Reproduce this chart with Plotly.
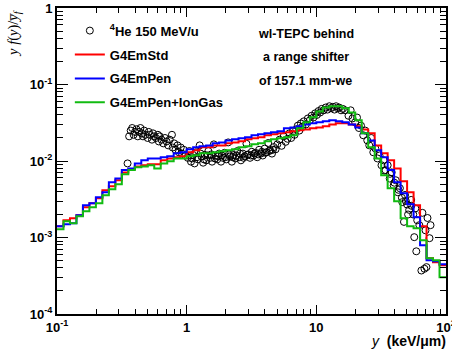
import numpy as np
import plotly.graph_objects as go

# Histogram bin edges: 20 log bins per decade from 0.1 to 100 keV/um
bin_edges = list(10 ** np.linspace(-1, 2, 61))

g4emstd = [0.00140, 0.00168, 0.00179, 0.00195, 0.00249, 0.00281, 0.00326, 0.00414, 0.00467, 0.0056,
           0.0071, 0.0078, 0.0085, 0.0088, 0.0091, 0.0091, 0.0102, 0.0108, 0.0112, 0.0115,
           0.0130, 0.0138, 0.0151, 0.0151, 0.0160, 0.0160, 0.0170, 0.0175, 0.0181, 0.0192,
           0.0198, 0.0204, 0.0217, 0.0223, 0.0230, 0.0237, 0.0244, 0.0252, 0.0259, 0.0267,
           0.0275, 0.0284, 0.0301, 0.0311, 0.0311, 0.0301, 0.0284, 0.0259, 0.0230, 0.0160,
           0.0126, 0.0102, 0.0080, 0.00543, 0.00390, 0.00264, 0.00140, 0.000537, 0.000476, 0.000435]

g4empen = [0.00140, 0.00149, 0.00154, 0.00195, 0.00264, 0.00281, 0.00336, 0.00390, 0.00527, 0.0059,
           0.0076, 0.0080, 0.0093, 0.0102, 0.0108, 0.0108, 0.0112, 0.0115, 0.0126, 0.0130,
           0.0142, 0.0151, 0.0156, 0.0160, 0.0170, 0.0175, 0.0186, 0.0192, 0.0198, 0.0204,
           0.0217, 0.0223, 0.0230, 0.0237, 0.0244, 0.0267, 0.0275, 0.0284, 0.0301, 0.0311,
           0.0320, 0.0330, 0.0340, 0.0330, 0.0320, 0.0301, 0.0275, 0.0230, 0.0186, 0.0138,
           0.0112, 0.0076, 0.00527, 0.00378, 0.00272, 0.00184, 0.000793, 0.000505, 0.000490, 0.000448]

g4empen_iongas = [0.00128, 0.00163, 0.00154, 0.00190, 0.00220, 0.00249, 0.00281, 0.00357, 0.00426, 0.00496,
                  0.0067, 0.0076, 0.0083, 0.0085, 0.0088, 0.0080, 0.0093, 0.0099, 0.0108, 0.0108,
                  0.0115, 0.0119, 0.0126, 0.0126, 0.0130, 0.0134, 0.0138, 0.0142, 0.0151, 0.0156,
                  0.0165, 0.0170, 0.0181, 0.0192, 0.0198, 0.0204, 0.0217, 0.0267, 0.0320, 0.0372,
                  0.0445, 0.0502, 0.0518, 0.0518, 0.0488, 0.0432, 0.0340, 0.0230, 0.0151, 0.0108,
                  0.0065, 0.00439, 0.00298, 0.00179, 0.00140, 0.00132, 0.000922, 0.000537, 0.000505, 0.000303]

# Measured spectrum (4He 150 MeV/u)
exp_x_a = [0.35, 0.36, 0.37, 0.38, 0.39, 0.40, 0.41, 0.42, 0.43, 0.44, 0.45, 0.46, 0.47, 0.48, 0.50,
           0.51, 0.52, 0.54, 0.55, 0.56, 0.58, 0.60, 0.61, 0.62, 0.64, 0.66, 0.68, 0.70, 0.72, 0.74,
           0.77, 0.78, 0.80, 0.82, 0.85, 0.87, 0.90, 0.92, 0.95, 0.98]
exp_y_a = [0.0093, 0.021, 0.025, 0.027, 0.022, 0.024, 0.026, 0.021, 0.024, 0.027, 0.023, 0.021, 0.025, 0.022, 0.020,
           0.024, 0.022, 0.019, 0.023, 0.021, 0.020, 0.022, 0.018, 0.021, 0.019, 0.017, 0.020, 0.018, 0.016, 0.019,
           0.022, 0.015, 0.017, 0.014, 0.016, 0.013, 0.015, 0.0125, 0.014, 0.0118]
exp_x_b = [1.02, 1.05, 1.08, 1.12, 1.15, 1.18, 1.22, 1.26, 1.30, 1.34, 1.38, 1.42, 1.47, 1.52, 1.57,
           1.62, 1.67, 1.72, 1.78, 1.84, 1.90, 1.96, 2.02, 2.09, 2.16, 2.23, 2.30, 2.38, 2.46, 2.54,
           2.62, 2.71, 2.80, 2.89, 2.98, 3.08, 3.18, 3.28, 3.39, 3.50, 3.62, 3.74, 3.86, 3.99, 4.12,
           4.26, 4.40, 4.55, 4.70, 4.85,
           1.10, 1.20, 1.28, 1.36, 1.45, 1.55, 1.65, 1.75, 1.87, 1.99, 2.12, 2.26, 2.42, 2.58, 2.75,
           2.93, 3.13, 3.33, 3.56, 3.80, 4.05, 4.33, 4.62]
exp_y_b = [0.011, 0.0135, 0.0098, 0.012, 0.0093, 0.013, 0.0105, 0.016, 0.0115, 0.0095, 0.012, 0.0102, 0.0135, 0.011, 0.0098,
           0.0165, 0.0118, 0.0105, 0.0125, 0.0098, 0.011, 0.0128, 0.0105, 0.0175, 0.0115, 0.0098, 0.012, 0.0108, 0.0135, 0.0112,
           0.0102, 0.0125, 0.0115, 0.0168, 0.0122, 0.011, 0.0132, 0.0118, 0.0128, 0.0112, 0.014, 0.0125, 0.0118, 0.0145, 0.013,
           0.0172, 0.0138, 0.0125, 0.0152, 0.0142,
           0.0108, 0.0112, 0.0125, 0.0105, 0.0118, 0.0122, 0.0108, 0.0115, 0.0118, 0.0112, 0.0122, 0.0112, 0.0118, 0.0125, 0.0110,
           0.0120, 0.0118, 0.0125, 0.0122, 0.0132, 0.0128, 0.0135, 0.0140]
exp_x_c = [5.0, 5.2, 5.4, 5.6, 5.8, 6.0, 6.2, 6.4, 6.6, 6.8, 7.0, 7.2, 7.4, 7.6, 7.8, 8.0, 8.3, 8.6, 8.9,
           9.2, 9.5, 9.8, 10.1, 10.4, 10.7, 11.0, 11.4, 11.8, 12.2, 12.6, 13.0, 13.4, 13.8, 14.2, 14.6,
           15.0, 15.5, 16.0]
exp_y_c = [0.0165, 0.019, 0.0158, 0.021, 0.0178, 0.0195, 0.023, 0.020, 0.0245, 0.022, 0.026, 0.029, 0.025, 0.031,
           0.028, 0.033, 0.030, 0.036, 0.034, 0.039, 0.037, 0.042, 0.040, 0.045, 0.043, 0.048, 0.046, 0.050,
           0.047, 0.052, 0.049, 0.051, 0.047, 0.052, 0.049, 0.050, 0.046, 0.048]
exp_x_d = [16.7, 17.7, 18.4, 19.0, 19.9, 20.6, 21.3, 22.1, 23.0, 23.8, 24.7, 25.6, 26.5, 27.5, 28.5,
           29.6, 30.7, 31.8, 33.0, 33.5, 34.2, 35.5, 36.8, 37.0, 38.1, 39.5, 40.0, 41.0, 42.5, 43.0,
           44.1, 45.7, 46.0, 47.4, 48.3, 49.0, 50.1, 51.0, 52.0, 53.9, 54.0, 55.9, 56.9, 58.0, 59.0,
           60.0, 62.3, 64.6, 65.8, 68.2, 69.5, 70.7, 72.0, 74.6, 76.0]
exp_y_d = [0.046, 0.039, 0.046, 0.036, 0.032, 0.037, 0.027, 0.029, 0.0217, 0.025, 0.0186, 0.016, 0.020, 0.013, 0.0146,
           0.0108, 0.0118, 0.0088, 0.0102, 0.0075, 0.0076, 0.0088, 0.0059, 0.0068, 0.0071, 0.0048, 0.0052, 0.0056, 0.0039, 0.0042,
           0.0044, 0.0033, 0.0029, 0.0016, 0.0036, 0.0030, 0.0027, 0.0020, 0.0023, 0.0031, 0.0026, 0.0020, 0.00101, 0.0024, 0.00066,
           0.00168, 0.00145, 0.00037, 0.0021, 0.00039, 0.00124, 0.00041, 0.0018, 0.00098, 0.00145]

exp_x = exp_x_a + exp_x_b + exp_x_c + exp_x_d
exp_y = exp_y_a + exp_y_b + exp_y_c + exp_y_d

x_tickvals = [0.1, 1, 10, 100]
x_ticktext = ["10<sup>-1</sup>", "1", "10", "10<sup>2</sup>"]
y_tickvals = [1e-4, 1e-3, 1e-2, 1e-1, 1]
y_ticktext = ["10<sup>-4</sup>", "10<sup>-3</sup>", "10<sup>-2</sup>", "10<sup>-1</sup>", "1"]

FONT = "Liberation Sans, Arial, sans-serif"
SERIF = "Liberation Serif, Times New Roman, serif"


def step_y(vals):
    return list(vals) + [vals[-1]]


fig = go.Figure()
fig.add_trace(go.Scatter(
    x=exp_x, y=exp_y, mode="markers", name="<sup>4</sup>He 150 MeV/u",
    marker=dict(symbol="circle-open", size=7, color="black", line=dict(width=1, color="black")),
    legendgroup="a"))
fig.add_trace(go.Scatter(
    x=bin_edges, y=step_y(g4emstd), mode="lines", line_shape="hv", name="G4EmStd",
    line=dict(color="#ff0000", width=2), legendgroup="b"))
fig.add_trace(go.Scatter(
    x=bin_edges, y=step_y(g4empen), mode="lines", line_shape="hv", name="G4EmPen",
    line=dict(color="#0000ff", width=2), legendgroup="c"))
fig.add_trace(go.Scatter(
    x=bin_edges, y=step_y(g4empen_iongas), mode="lines", line_shape="hv", name="G4EmPen+IonGas",
    line=dict(color="#11bb11", width=2), legendgroup="d"))

x_minor = [m * 10 ** e for e in (-1, 0, 1) for m in range(2, 10)]
y_minor = [m * 10 ** e for e in (-4, -3, -2, -1) for m in range(2, 10)]

axis_common = dict(
    type="log", showgrid=False, zeroline=False, showline=True, linewidth=2, linecolor="black",
    mirror="allticks", ticks="inside", tickcolor="black", tickwidth=1, automargin=False,
    ticklabeloverflow="allow",
    tickfont=dict(family=FONT, size=13, color="black", weight="bold"),
)

fig.update_xaxes(**axis_common, range=[-1, 2], tickmode="array", tickvals=x_tickvals,
                 ticktext=x_ticktext, ticklen=9,
                 minor=dict(tickmode="array", tickvals=x_minor, ticks="inside", ticklen=5,
                            tickcolor="black", tickwidth=1, showgrid=False))
fig.update_yaxes(**axis_common, range=[-4, 0], tickmode="array", tickvals=y_tickvals,
                 ticktext=y_ticktext, ticklen=11,
                 minor=dict(tickmode="array", tickvals=y_minor, ticks="inside", ticklen=6,
                            tickcolor="black", tickwidth=1, showgrid=False))

ann_font = dict(family=FONT, size=12.5, color="black", weight="bold")
fig.update_layout(
    width=452, height=353,
    margin=dict(l=57, r=6, t=8, b=39, autoexpand=False),
    paper_bgcolor="white", plot_bgcolor="white",
    showlegend=True,
    legend=dict(x=0.033, y=0.975, xanchor="left", yanchor="top", bgcolor="rgba(0,0,0,0)",
                font=dict(family=FONT, size=13, color="black", weight="bold"),
                tracegroupgap=4, itemwidth=30),
    annotations=[
        dict(text="wl-TEPC behind", x=0.64, y=0.9135, xref="paper", yref="paper",
             showarrow=False, font=ann_font, xanchor="center", yanchor="middle"),
        dict(text="a range shifter", x=0.64, y=0.8385, xref="paper", yref="paper",
             showarrow=False, font=ann_font, xanchor="center", yanchor="middle"),
        dict(text="of 157.1 mm-we", x=0.64, y=0.760, xref="paper", yref="paper",
             showarrow=False, font=ann_font, xanchor="center", yanchor="middle"),
        dict(text="<i>y f</i>(<i>y</i>)/<i>y\u0305</i><sub><i>f</i></sub>", x=-0.112, y=1.0,
             xref="paper", yref="paper", showarrow=False, textangle=-90,
             font=dict(family=SERIF, size=14.5, color="black"), xanchor="center", yanchor="top"),
        dict(text="<i>y</i>  <b>(keV/\u03bcm)</b>", x=1.005, y=-0.088, xref="paper", yref="paper",
             showarrow=False, font=dict(family=FONT, size=14, color="black"),
             xanchor="right", yanchor="middle"),
    ],
)

fig.write_html("out.html", config={"displayModeBar": False},
               post_script="document.body.style.margin='0';")
